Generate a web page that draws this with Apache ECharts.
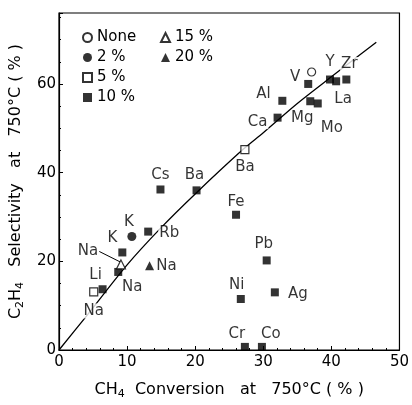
<!DOCTYPE html>
<html><head><meta charset="utf-8">
<script src="https://cdn.jsdelivr.net/npm/echarts@6/dist/echarts.min.js"></script>
<style>html,body{margin:0;padding:0;background:#fff}#c{width:412px;height:405px}</style>
</head><body><div id="c"></div>
<script>
// ---- data ----
const noneX = [37.1], noneY = [62.7], noneNames = [''];
const p2X = [10.7], p2Y = [25.6], p2Names = ['K'];
const p5X = [5.1, 27.3], p5Y = [13.1, 45.2], p5Names = ['Na', 'Ba'];
const p10Names = ['Li','Na','K','Rb','Cs','Ba','Fe','Ni','Pb','Ag','Cr','Co','Ca','Al','V','Mg','Mo','Y','La','Zr'];
const p10X = [6.4, 8.7, 9.3, 13.1, 14.9, 20.2, 26.0, 26.7, 30.5, 31.7, 27.3, 29.8, 32.1, 32.8, 36.6, 36.9, 38.0, 39.8, 40.7, 42.2];
const p10Y = [13.7, 17.6, 22.0, 26.7, 36.2, 36.0, 30.5, 11.5, 20.2, 13.0, 0.7, 0.7, 52.4, 56.2, 60.0, 56.1, 55.6, 61.0, 60.6, 61.0];
const p15X = [9.1], p15Y = [19.3], p15Names = ['Na'];
const p20X = [13.3], p20Y = [19.0], p20Names = ['Na'];
const trendX = [0, 4, 10, 15, 20, 27, 30, 35, 40, 46.6];
const trendY = [0, 7.6, 19.2, 27.6, 35.2, 45.2, 49, 55.6, 61.6, 69.4];
const xTicks = [0, 10, 20, 30, 40, 50];
const yTicks = [0, 20, 40, 60];

// ---- label offsets (pixels, style only) ----
const offsets = {
  p2: [[-3, -14]],
  p5: [[0, 19], [0, 18]],
  p10: [[-7,-14],[14,15],[-10,-14],[21,2],[0,-14],[-2,-15],[0,-13],[-4,-14],[-3,-16],[23,2],[-8,-13],[9,-13],
        [-20,4],[-19,-7],[-13,-7],[-8,17],[14,25],[0,-17],[7,18],[3,-15]],
  p15: [[-33, -13]],
  p20: [[17, 0]]
};
const FONT = 'DejaVu Sans';
function build(xs, ys, names, offs) {
  return xs.map((x, i) => ({
    value: [x, ys[i]],
    label: names[i] ? {show: true, formatter: names[i], position: 'inside', offset: offs ? offs[i] : [0,0]} : {show: false}
  }));
}
const labelStyle = {color: '#000', fontSize: 15, fontFamily: FONT, backgroundColor: '#fff', padding: [0, 1]};
const openStyle = {color: '#fff', borderColor: '#000', borderWidth: 1.2};
const fillStyle = {color: '#000', borderColor: '#000', borderWidth: 0};
const subRich = {s: {fontSize: 11, fontFamily: FONT, color: '#000', verticalAlign: 'bottom', padding: [9, 0, 0, 0]}};

const chart = echarts.init(document.getElementById('c'), null, {renderer: 'canvas'});
chart.setOption({
  animation: false,
  backgroundColor: '#fff',
  grid: {left: 58, right: 12, top: 13, bottom: 50, show: true, borderColor: '#000', borderWidth: 1.2},
  legend: [
    {orient: 'vertical', left: 77, top: 25, itemWidth: 9, itemHeight: 9, itemGap: 5, itemTextGap: 4,
     data: ['None', '2 %', '5 %', '10 %'], textStyle: {fontSize: 15, fontFamily: FONT, color: '#000'}},
    {orient: 'vertical', left: 155, top: 25, itemWidth: 9, itemHeight: 9, itemGap: 5, itemTextGap: 4,
     data: ['15 %', '20 %'], textStyle: {fontSize: 15, fontFamily: FONT, color: '#000'}}
  ],
  xAxis: {
    type: 'value', min: 0, max: 50, interval: 10,
    name: 'CH{s|4}  Conversion   at   750°C ( % )', nameLocation: 'middle', nameGap: 30,
    nameTextStyle: {fontSize: 16, fontFamily: FONT, color: '#000', rich: subRich},
    axisLine: {lineStyle: {color: '#000', width: 1.2}},
    axisTick: {inside: true, length: 4, lineStyle: {color: '#000'}},
    minorTick: {show: true, splitNumber: 5, length: 2, lineStyle: {color: '#000'}},
    axisLabel: {fontSize: 15, fontFamily: FONT, color: '#000', margin: 5,
      formatter: v => xTicks.indexOf(v) >= 0 ? String(v) : ''},
    splitLine: {show: false}
  },
  yAxis: {
    type: 'value', min: 0, max: 76, interval: 20,
    name: 'C{s|2}H{s|4}   Selectivity   at   750°C ( % )', nameLocation: 'middle', nameGap: 33,
    nameTextStyle: {fontSize: 16, fontFamily: FONT, color: '#000', rich: subRich},
    axisLine: {lineStyle: {color: '#000', width: 1.2}},
    axisTick: {inside: true, length: 4, lineStyle: {color: '#000'}},
    minorTick: {show: true, splitNumber: 4, length: 2, lineStyle: {color: '#000'}},
    axisLabel: {fontSize: 15, fontFamily: FONT, color: '#000', margin: 3,
      formatter: v => yTicks.indexOf(v) >= 0 ? String(v) : ''},
    splitLine: {show: false}
  },
  series: [
    {type: 'line', name: 'trend', data: trendX.map((x, i) => [x, trendY[i]]), smooth: 0.3, showSymbol: false,
     lineStyle: {color: '#000', width: 1.3}, z: 1, silent: true},
    {type: 'scatter', name: 'None', symbol: 'circle', symbolSize: 8, itemStyle: openStyle, label: labelStyle,
     data: build(noneX, noneY, noneNames), z: 3},
    {type: 'scatter', name: '2 %', symbol: 'circle', symbolSize: 9, itemStyle: fillStyle, label: labelStyle,
     data: build(p2X, p2Y, p2Names, offsets.p2), z: 3},
    {type: 'scatter', name: '5 %', symbol: 'rect', symbolSize: 8, itemStyle: openStyle, label: labelStyle,
     data: build(p5X, p5Y, p5Names, offsets.p5), z: 3},
    {type: 'scatter', name: '10 %', symbol: 'rect', symbolSize: 8, itemStyle: fillStyle, label: labelStyle,
     data: build(p10X, p10Y, p10Names, offsets.p10), z: 3},
    {type: 'scatter', name: '15 %', symbol: 'triangle', symbolSize: 9, itemStyle: openStyle,
     label: Object.assign({}, labelStyle),
     labelLayout: p => ({dx: offsets.p15[p.dataIndex][0], dy: offsets.p15[p.dataIndex][1]}),
     labelLine: {show: true, lineStyle: {color: '#000', width: 1}},
     data: p15X.map((x, i) => ({value: [x, p15Y[i]], label: {show: true, formatter: p15Names[i], position: 'inside'}})), z: 3},
    {type: 'scatter', name: '20 %', symbol: 'triangle', symbolSize: 9, itemStyle: fillStyle, label: labelStyle,
     data: build(p20X, p20Y, p20Names, offsets.p20), z: 3}
  ]
});
</script></body></html>
